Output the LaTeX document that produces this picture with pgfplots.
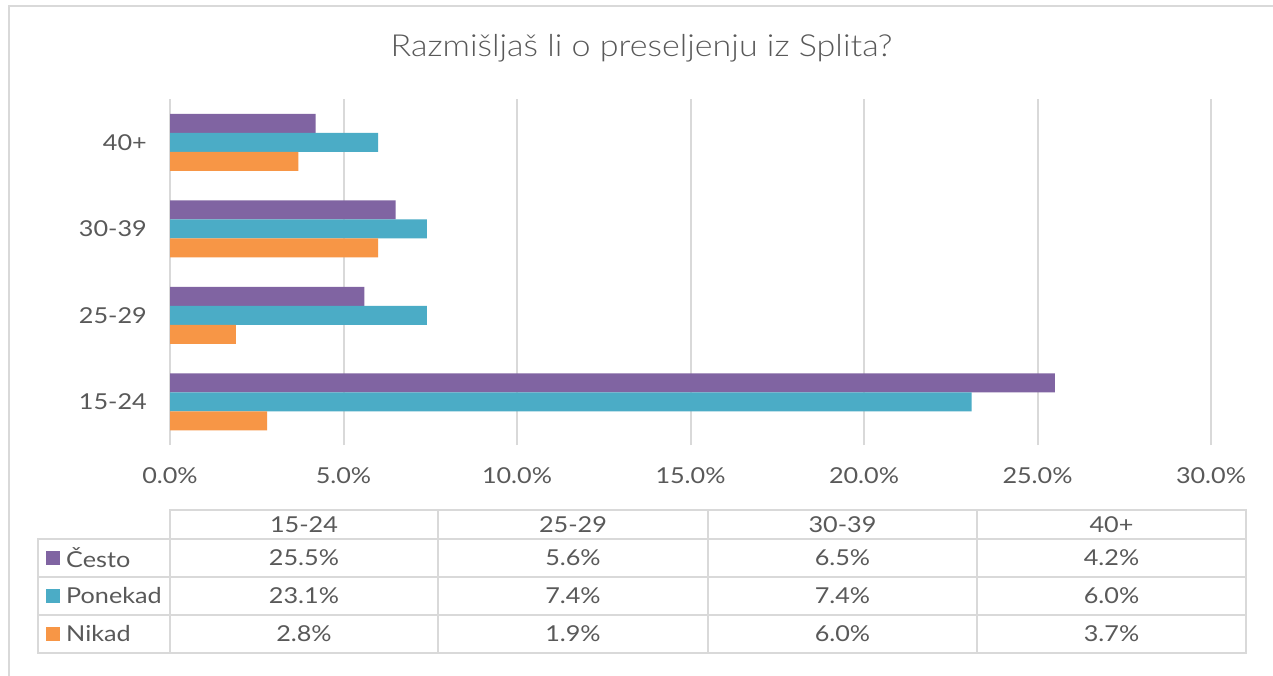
\documentclass[border=0pt]{standalone}
\usepackage{fontspec}
\setmainfont{Lato}[FakeStretch=1.15]
\newfontfamily\titlefont{Lato Light}[FakeStretch=1.12]
\usepackage{pgfplots}
\pgfplotsset{compat=1.18}

\definecolor{cpurple}{HTML}{8064A2}
\definecolor{cteal}{HTML}{4BACC6}
\definecolor{corange}{HTML}{F79646}
\definecolor{textgray}{HTML}{595959}
\definecolor{linegray}{HTML}{D9D9D9}

\newcommand{\lbl}{\fontsize{22}{26}\selectfont}

\begin{document}
\begin{tikzpicture}
\begin{scope}[x=1bp,y=-1bp]
  \useasboundingbox[fill=white] (0,0) rectangle (1273,676);
  \draw[linegray, line width=2bp] (9,676) -- (9,6) -- (1273,6);
  \node[text=textgray, font=\titlefont\fontsize{30.5}{36}\selectfont] at (641.5,48) {Razmišljaš li o preseljenju iz Splita?};
\end{scope}

\begin{axis}[
  at={(170bp,-445bp)}, anchor=south west,
  scale only axis, width=1041bp, height=346bp,
  xbar, bar width=19bp,
  xmin=0, xmax=30, ymin=-0.5, ymax=3.5,
  xtick={0,5,10,15,20,25,30},
  xticklabels={0.0\%,5.0\%,10.0\%,15.0\%,20.0\%,25.0\%,30.0\%},
  ytick={0,1,2,3},
  yticklabels={15-24,25-29,30-39,40+},
  xmajorgrids, grid style={draw=linegray, line width=2bp},
  axis line style={draw=none}, major tick length=0pt,
  ticklabel style={font=\lbl, text=textgray, inner sep=0pt},
  xticklabel style={anchor=north, yshift=-22bp},
  yticklabel style={anchor=east, xshift=-23bp},
]
\addplot[fill=cpurple, draw=none, bar shift=19bp] coordinates {(25.5,0) (5.6,1) (6.5,2) (4.2,3)};
\addplot[fill=cteal, draw=none, bar shift=0bp] coordinates {(23.1,0) (7.4,1) (7.4,2) (6.0,3)};
\addplot[fill=corange, draw=none, bar shift=-19bp] coordinates {(2.8,0) (1.9,1) (6.0,2) (3.7,3)};
\end{axis}

\begin{scope}[x=1bp,y=-1bp]
  % data table
  \draw[linegray, line width=2bp] (170,510) rectangle (1246,653);
  \draw[linegray, line width=2bp] (38,539) rectangle (170,653);
  \foreach \yy in {539,577,615} \draw[linegray, line width=2bp] (38,\yy) -- (1246,\yy);
  \foreach \xx in {438,708,977} \draw[linegray, line width=2bp] (\xx,510) -- (\xx,653);
  \foreach \cx/\t in {304/15-24,573/25-29,842.5/30-39,1111.5/40+}
    \node[text=textgray, font=\lbl, inner sep=0pt] at (\cx,524.5) {\t};
  \foreach \cy/\c/\t in {558/cpurple/Često,596/cteal/Ponekad,634/corange/Nikad}{
    \fill[\c] (46,\cy-7) rectangle (60,\cy+7);
    \node[text=textgray, font=\lbl, inner sep=0pt, anchor=west] at (66,\cy) {\t};
  }
  \foreach \cx/\a/\b/\c in {304/25.5/23.1/2.8,573/5.6/7.4/1.9,842.5/6.5/7.4/6.0,1111.5/4.2/6.0/3.7}{
    \node[text=textgray, font=\lbl, inner sep=0pt] at (\cx,558) {\a\%};
    \node[text=textgray, font=\lbl, inner sep=0pt] at (\cx,596) {\b\%};
    \node[text=textgray, font=\lbl, inner sep=0pt] at (\cx,634) {\c\%};
  }
\end{scope}
\end{tikzpicture}
\end{document}
